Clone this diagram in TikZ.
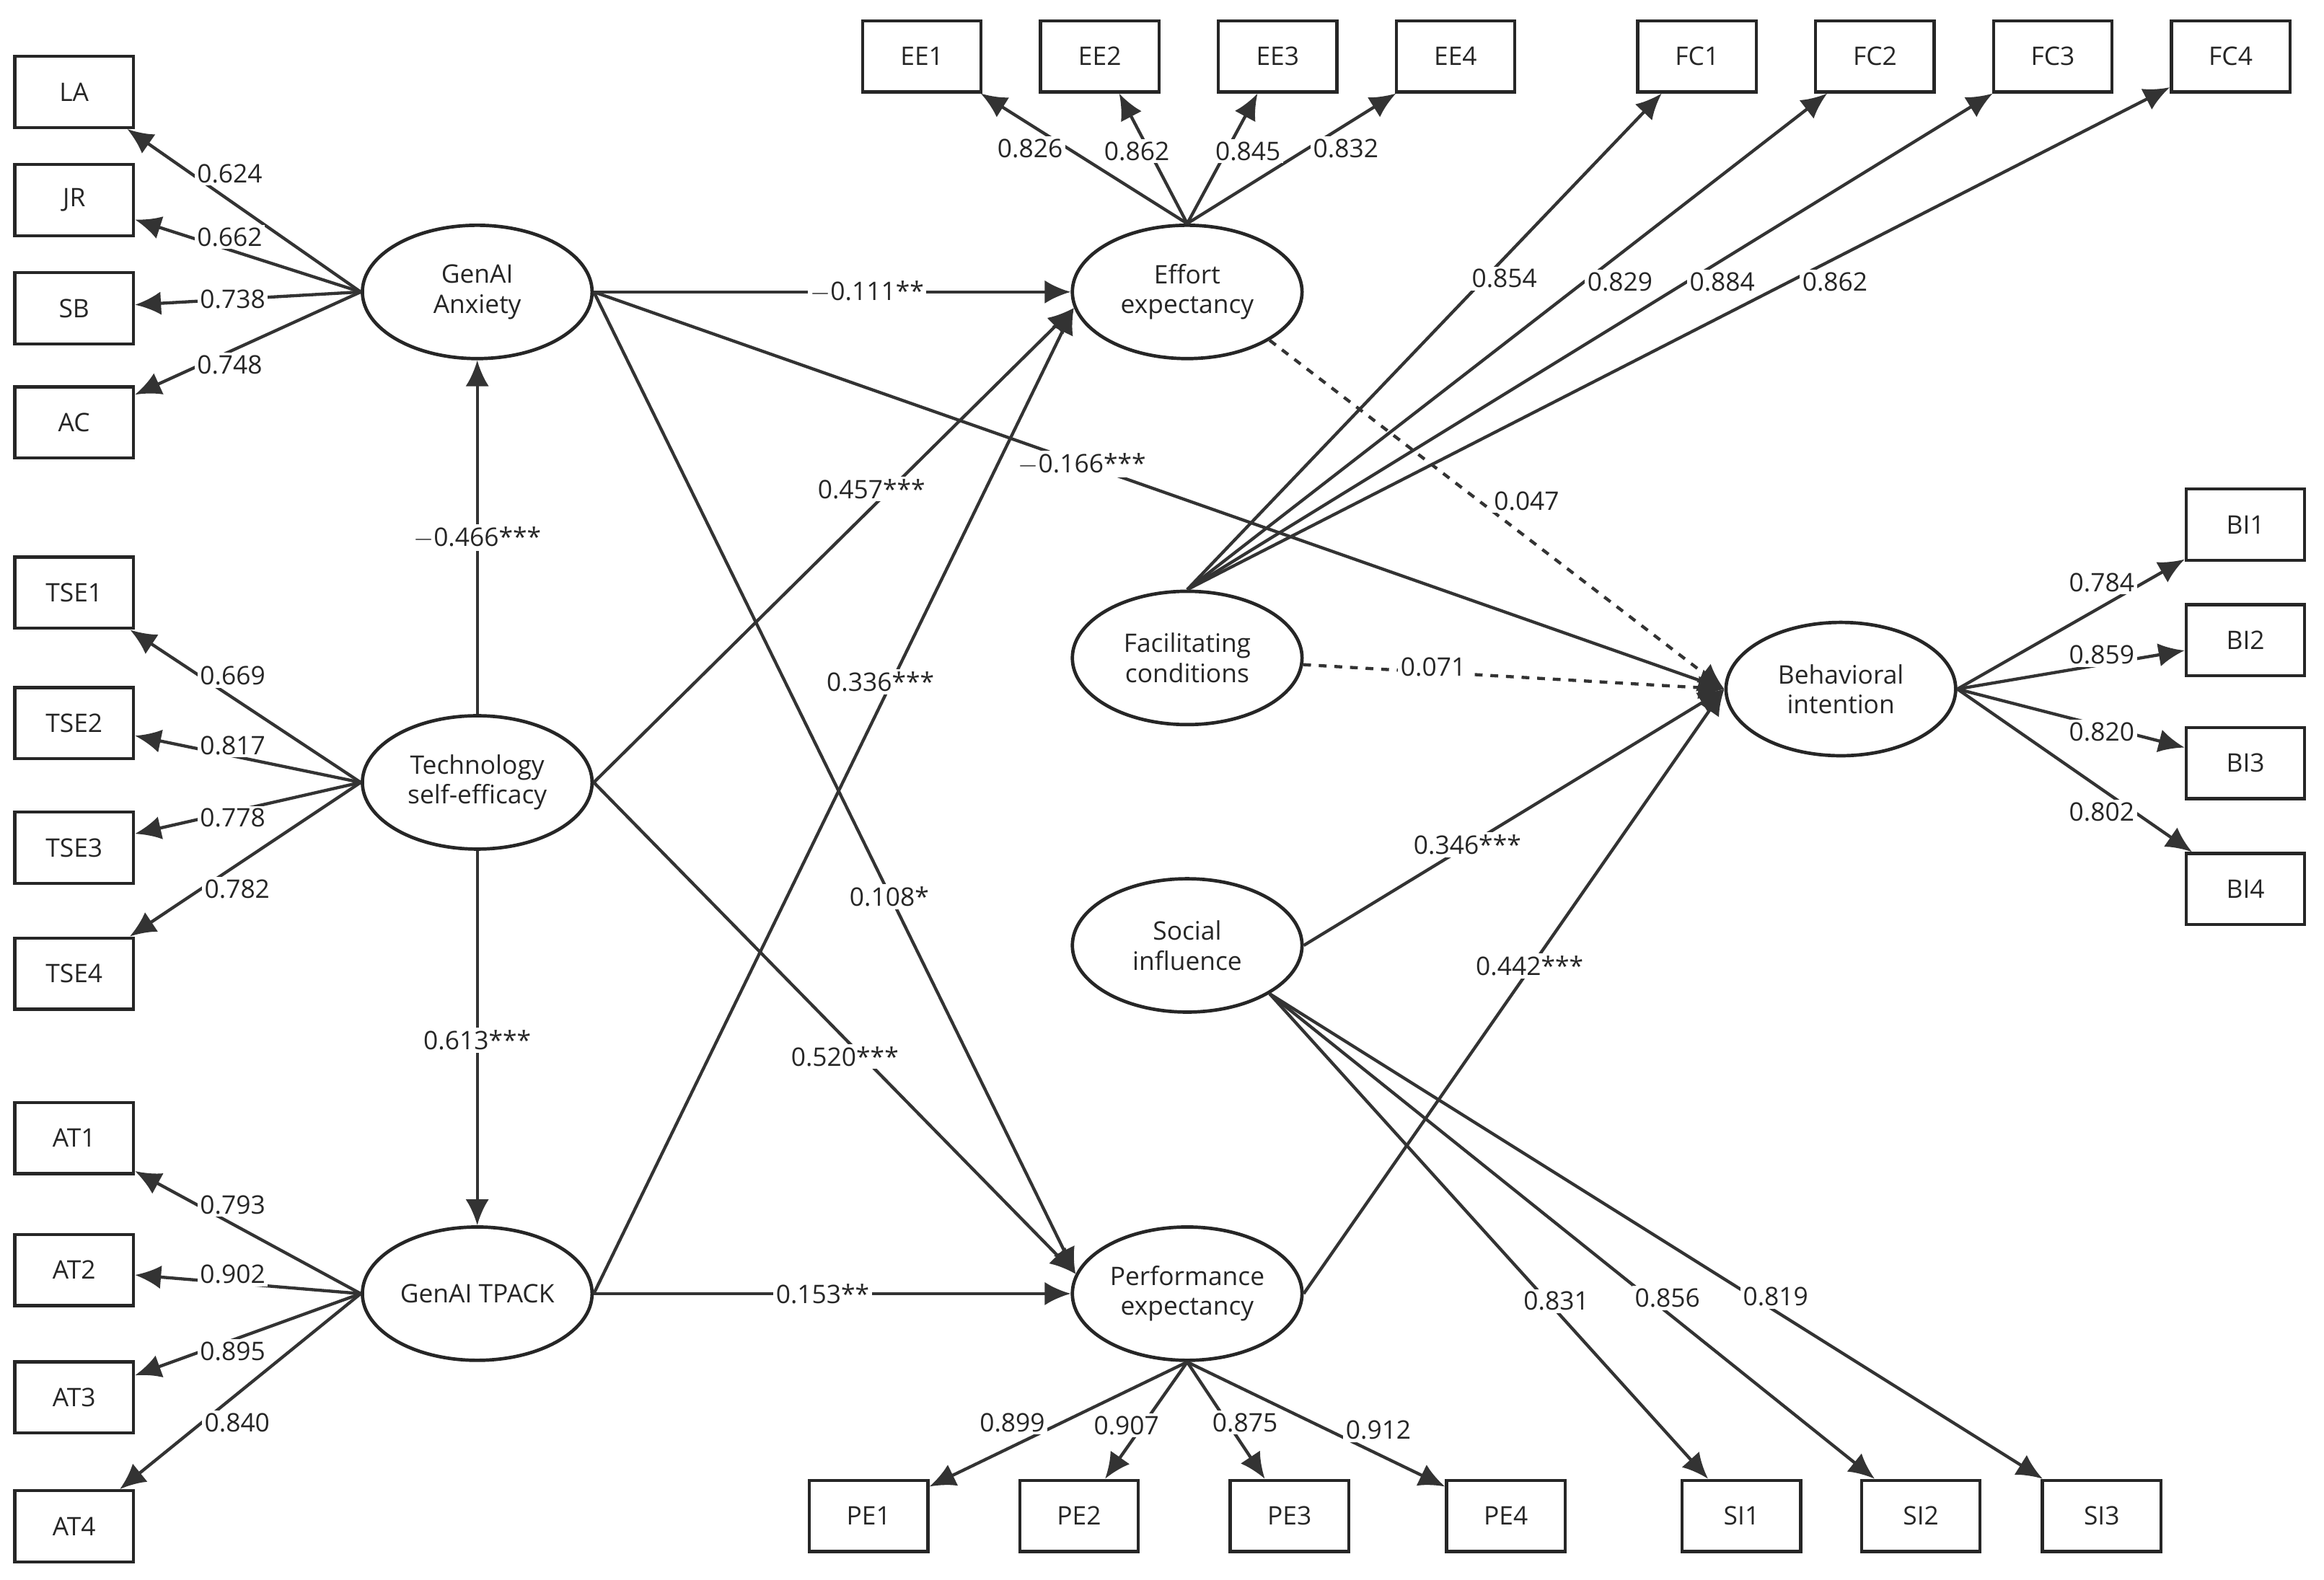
\documentclass[tikz,border=0pt]{standalone}
\usepackage{fontspec}
\setmainfont{Open Sans}
\usetikzlibrary{arrows.meta,shapes.geometric}
\begin{document}
\begin{tikzpicture}[x=0.02cm,y=-0.02cm,
  every node/.style={font=\fontsize{9.8}{11.5}\selectfont, text=black!85},
  box/.style={draw=black!85, line width=1.2pt, minimum width=1.6cm, minimum height=0.96cm, inner sep=0pt},
  lat/.style={draw=black!85, line width=1.3pt, ellipse, minimum width=3.1cm, minimum height=1.8cm, align=center, inner sep=0pt},
  arr/.style={draw=black!80, line width=1.2pt, -{Latex[length=10pt,width=9pt]}},
  darr/.style={arr, dashed},
  lab/.style={fill=white, inner sep=1pt}]
\useasboundingbox (0,0) rectangle (1568,1066);
% indicators
\foreach \n/\x/\y in {LA/50/62,JR/50/135,SB/50/208,AC/50/285,TSE1/50/400,TSE2/50/488,TSE3/50/572,TSE4/50/657,
  AT1/50/768,AT2/50/857,AT3/50/943,AT4/50/1030,EE1/622/38,EE2/742/38,EE3/862/38,EE4/982/38,
  FC1/1145/38,FC2/1265/38,FC3/1385/38,FC4/1505/38,BI1/1515/354,BI2/1515/432,BI3/1515/515,BI4/1515/600,
  PE1/586/1023,PE2/728/1023,PE3/870/1023,PE4/1016/1023,SI1/1175/1023,SI2/1296/1023,SI3/1418/1023}
  \node[box] (\n) at (\x,\y) {\n};
% latent variables
\node[lat] (ga) at (322,197) {GenAI\\Anxiety};
\node[lat] (tse) at (322,528) {Technology\\self-efficacy};
\node[lat] (tp) at (322,873) {GenAI TPACK};
\node[lat] (ee) at (801,197) {Effort\\expectancy};
\node[lat] (fc) at (801,444) {Facilitating\\conditions};
\node[lat] (si) at (801,638) {Social\\influence};
\node[lat] (pe) at (801,873) {Performance\\expectancy};
\node[lat] (bi) at (1242,465) {Behavioral\\intention};
% measurement arrows
\foreach \t in {LA,JR,SB,AC} \draw[arr] (ga.west) -- (\t);
\foreach \t in {TSE1,TSE2,TSE3,TSE4} \draw[arr] (tse.west) -- (\t);
\foreach \t in {AT1,AT2,AT3,AT4} \draw[arr] (tp.west) -- (\t);
\foreach \t in {EE1,EE2,EE3,EE4} \draw[arr] (ee.north) -- (\t);
\foreach \t in {FC1,FC2,FC3,FC4} \draw[arr] (fc.north) -- (\t);
\foreach \t in {BI1,BI2,BI3,BI4} \draw[arr] (bi.east) -- (\t);
\foreach \t in {PE1,PE2,PE3,PE4} \draw[arr] (pe.south) -- (\t);
\foreach \t in {SI1,SI2,SI3} \draw[arr] (si.south east) -- (\t);
% structural arrows
\draw[arr] (ga) -- (ee);
\draw[arr] (ga.east) -- (bi.west);
\draw[arr] (ga.east) -- (pe.170);
\draw[arr] (tse) -- (ga);
\draw[arr] (tse) -- (tp);
\draw[arr] (tse.east) -- (ee.188);
\draw[arr] (tse.east) -- (pe.170);
\draw[arr] (tp.east) -- (ee.188);
\draw[arr] (tp) -- (pe);
\draw[darr] (ee.south east) -- (bi.west);
\draw[darr] (fc) -- (bi.west);
\draw[arr] (si.east) -- (bi.west);
\draw[arr] (pe.east) -- (bi.west);
% labels
\foreach \v/\x/\y in {0.624/155/117,0.662/155/160,0.738/157/202,0.748/155/246,
  0.669/157/456,0.817/157/503,0.778/157/552,0.782/160/600,
  0.793/157/813,0.902/157/860,0.895/157/912,0.840/160/960,
  0.826/695/100,0.862/767/102,0.845/842/102,0.832/908/100,
  0.854/1015/188,0.829/1093/190,0.884/1162/190,0.862/1238/190,
  0.784/1418/393,0.859/1418/442,0.820/1418/494,0.802/1418/548,
  0.899/683/960,0.907/760/962,0.875/840/960,0.912/930/965,
  0.831/1050/878,0.856/1125/876,0.819/1198/875,
  0.047/1030/338,0.071/967/450}
  \node[lab] at (\x,\y) {\v};
\foreach \v/\x/\y in {{$-$0.111**}/585/197,{$-$0.166***}/730/313,{0.108*}/600/605,{$-$0.466***}/322/363,
  {0.457***}/588/330,{0.520***}/570/713,{0.613***}/322/702,{0.336***}/594/460,{0.153**}/555/873,
  {0.346***}/990/570,{0.442***}/1032/652}
  \node[lab] at (\x,\y) {\v};
\end{tikzpicture}
\end{document}
